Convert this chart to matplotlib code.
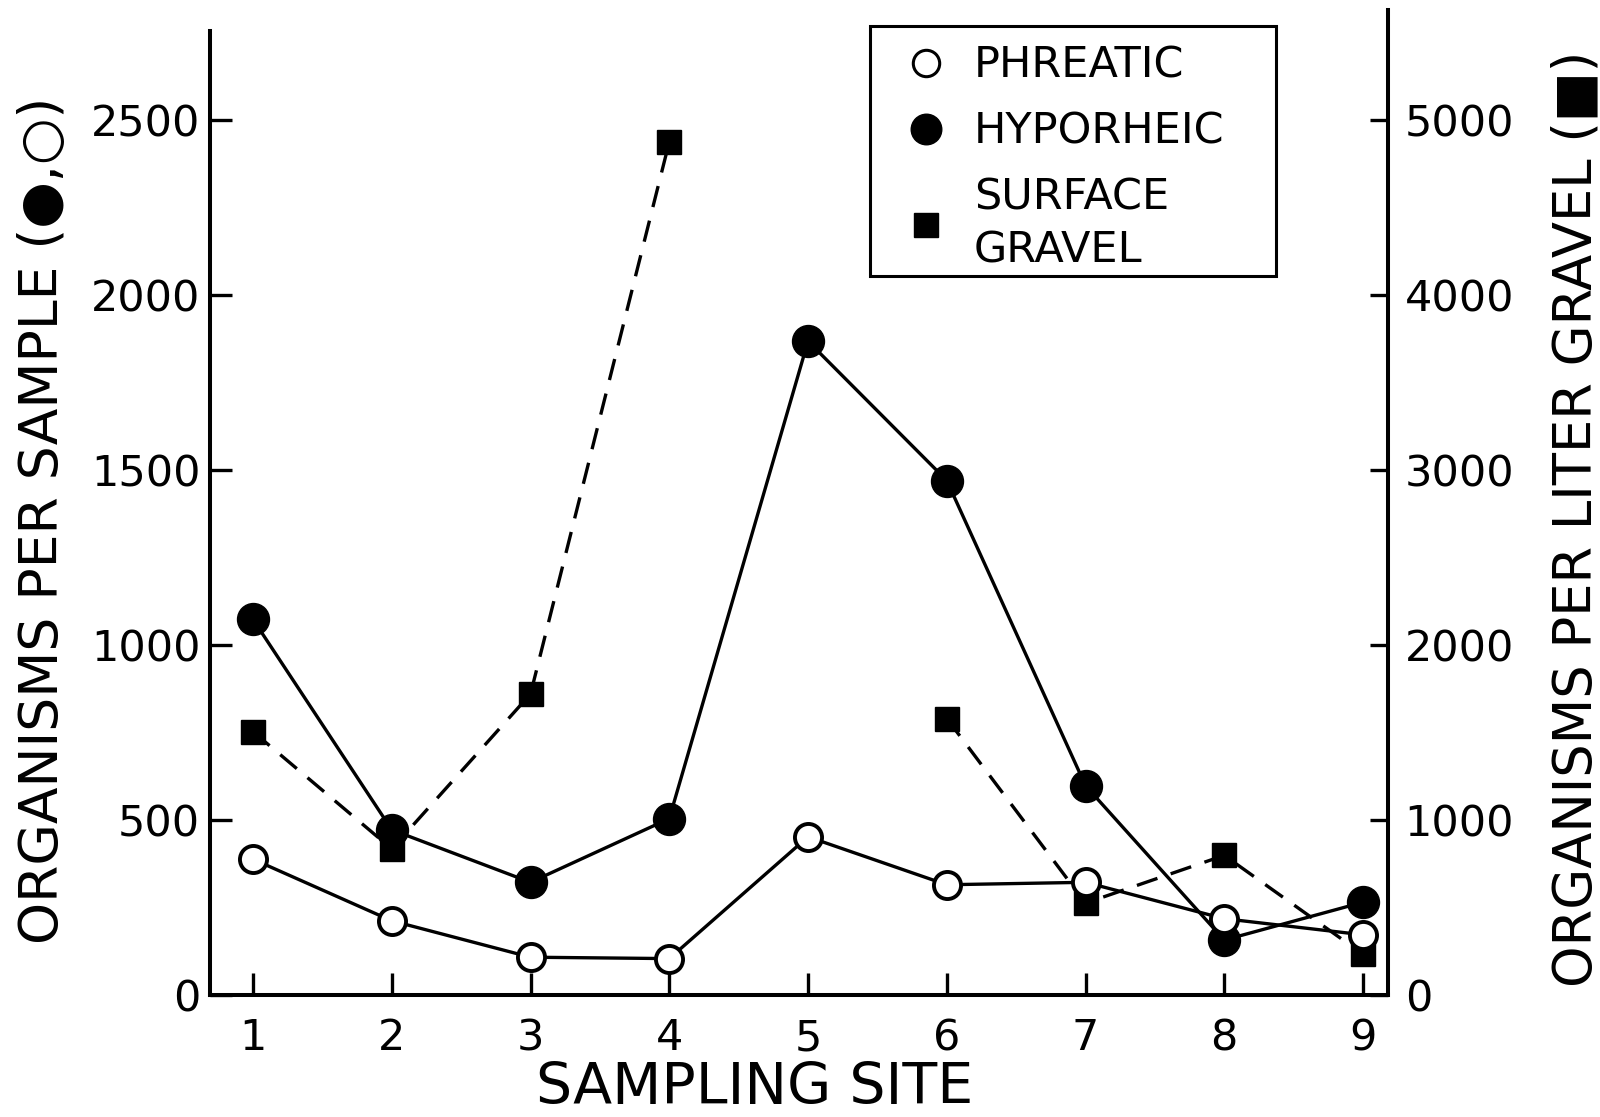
import numpy as np
import matplotlib
matplotlib.use("Agg")
import matplotlib.pyplot as plt
from matplotlib.lines import Line2D
from matplotlib.patches import Rectangle

# ---- data ----
sites = [1, 2, 3, 4, 5, 6, 7, 8, 9]
site_labels = ["1", "2", "3", "4", "5", "6", "7", "8", "9"]
phreatic = [388, 212, 108, 104, 452, 315, 322, 218, 172]          # organisms per sample
hyporheic = [1073, 472, 322, 504, 1868, 1470, 598, 157, 265]      # organisms per sample
surface_gravel = [1505, 835, 1720, 4875, np.nan, 1580, 525, 798, 233]  # organisms per liter gravel
left_ticks = [0, 500, 1000, 1500, 2000, 2500]
right_ticks = [0, 1000, 2000, 3000, 4000, 5000]

plt.rcParams['font.family'] = ['DejaVu Sans']

W, H = 1600, 1117
fig = plt.figure(figsize=(W / 100, H / 100), dpi=100)
L, R, B, T = 210, 1388, 995, 10
PX500 = 175.0
ax = fig.add_axes([L / W, (H - B) / H, (R - L) / W, (B - T) / H])
ax2 = ax.twinx()

ytop = (B - T) / PX500 * 500
ax.set_xlim(0.69, 9.18)
ax.set_ylim(0, ytop)
ax2.set_ylim(0, 2 * ytop)

# left-axis series drawn above the twin axis
ax.set_zorder(ax2.get_zorder() + 1)
ax.patch.set_visible(False)

lw = 2.4
ax2.plot(sites, surface_gravel, color='black', lw=lw, ls=(0, (6.5, 4.2)),
         marker='s', ms=17, mfc='black', mec='black', mew=1)
ax.plot(sites, hyporheic, color='black', lw=lw, marker='o', ms=23,
        mfc='black', mec='black', mew=1)
ax.plot(sites, phreatic, color='black', lw=lw, marker='o', ms=19.5,
        mfc='white', mec='black', mew=2.8)

# spines
for s in ['top', 'right']:
    ax.spines[s].set_visible(False)
for s in ['top', 'left', 'bottom']:
    ax2.spines[s].set_visible(False)
ax.spines['left'].set_bounds(0, (B - 31) / PX500 * 500)
for sp in [ax.spines['left'], ax.spines['bottom'], ax2.spines['right']]:
    sp.set_linewidth(2.9)

ax.set_xticks(sites)
ax.set_xticklabels(site_labels)
ax.set_yticks(left_ticks)
ax2.set_yticks(right_ticks)
ax.tick_params(axis='x', direction='in', length=16, width=2.4, labelsize=31, pad=16)
ax.tick_params(axis='y', direction='in', length=16, width=2.4, labelsize=31, pad=7)
ax2.tick_params(axis='y', direction='in', length=13, width=2.4, labelsize=31, pad=12)

ax.set_ylabel('ORGANISMS PER SAMPLE (●,○)', fontsize=38.5, ha='center', va='center')
ax.yaxis.set_label_coords((43 - L) / (R - L), (B - 520) / (B - T))
ax2.set_ylabel('ORGANISMS PER LITER GRAVEL (■)', fontsize=38, ha='center', va='center')
ax2.yaxis.set_label_coords((1576 - L) / (R - L), (B - 519) / (B - T))
ax.set_xlabel('SAMPLING SITE', fontsize=41, ha='center', va='center')
ax.xaxis.set_label_coords((755 - L) / (R - L), (B - 1088) / (B - T))

handles = [
    Line2D([], [], ls='none', marker='o', ms=19, mfc='white', mec='black', mew=2.2),
    Line2D([], [], ls='none', marker='o', ms=22, mfc='black', mec='black'),
    Line2D([], [], ls='none', marker='s', ms=17, mfc='black', mec='black'),
]
labels = ['PHREATIC', 'HYPORHEIC', 'SURFACE\nGRAVEL']
leg = ax.legend(handles, labels, loc='upper left',
                bbox_to_anchor=(892 / W, 1 - 45 / H),
                bbox_transform=fig.transFigure,
                borderaxespad=0, borderpad=0, handlelength=1.58,
                handletextpad=0.325, labelspacing=0.55, numpoints=1,
                fontsize=31, frameon=False)
leg.get_texts()[2].set_linespacing(1.33)

# legend frame
fig.add_artist(Rectangle((870 / W, 1 - 276 / H), 406 / W, 250 / H,
                         transform=fig.transFigure, fill=False,
                         lw=2.2, ec='black', zorder=5))

fig.savefig('out.png', dpi=100, facecolor='white')
